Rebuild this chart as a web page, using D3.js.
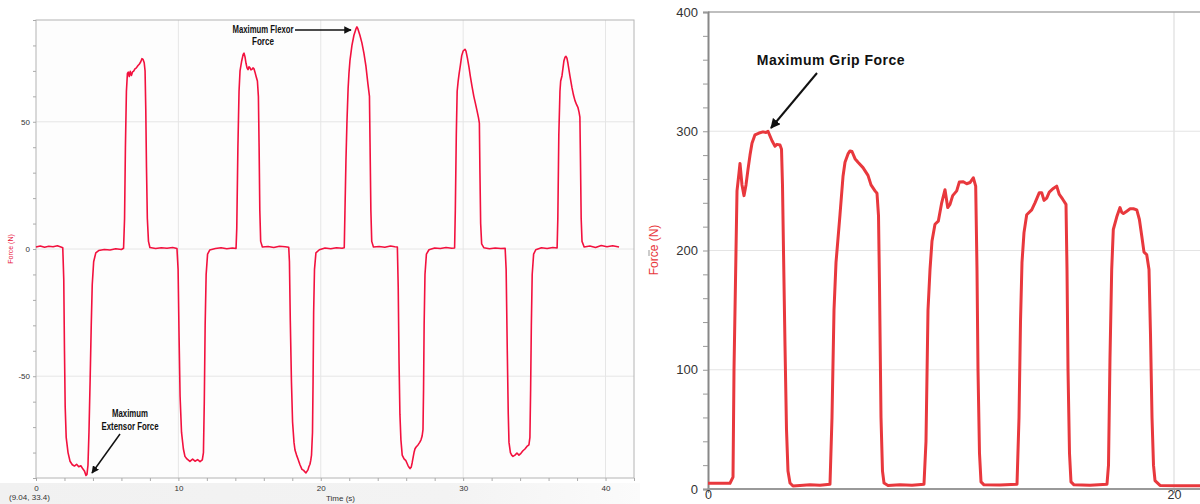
<!DOCTYPE html>
<html>
<head>
<meta charset="utf-8">
<script src="https://cdn.jsdelivr.net/npm/d3@7"></script>
<style>
  body { margin: 0; background: #fff; }
  svg { display: block; font-family: "Liberation Sans", Arial, sans-serif; }
</style>
</head>
<body>
<svg width="1200" height="504"></svg>
<script>
// left chart: flexor / extensor force over time
const leftTime = [0.00,0.30,0.60,0.90,1.20,1.50,1.75,1.88,1.95,2.00,2.05,2.12,2.25,2.39,2.55,2.70,2.85,3.00,3.15,3.30,3.40,3.51,3.58,3.65,3.72,3.80,3.88,3.95,4.05,4.20,4.40,4.80,5.20,5.60,6.00,
  6.15,6.22,6.28,6.35,6.42,6.48,6.55,6.62,6.70,6.78,6.86,6.95,7.05,7.15,7.25,7.35,7.44,7.52,7.60,7.66,7.71,7.76,7.82,7.90,8.00,8.40,8.80,9.20,9.60,9.90,
  9.98,10.05,10.12,10.22,10.35,10.46,10.60,10.81,11.00,11.17,11.35,11.52,11.68,11.76,11.82,11.88,11.95,12.05,12.20,12.60,13.00,13.40,13.80,14.05,
  14.10,14.18,14.26,14.33,14.45,14.55,14.61,14.68,14.75,14.82,14.89,14.96,15.03,15.10,15.17,15.24,15.31,15.38,15.45,15.55,15.62,15.67,15.72,15.78,15.90,16.30,16.70,17.10,17.50,17.75,
  17.80,17.86,17.94,18.02,18.12,18.19,18.30,18.40,18.54,18.68,18.80,18.89,18.96,19.03,19.10,19.17,19.24,19.30,19.35,19.42,19.46,19.50,19.56,19.66,19.90,20.30,20.70,21.10,21.50,21.65,
  21.70,21.77,21.84,21.92,21.98,22.05,22.19,22.33,22.47,22.54,22.61,22.75,22.89,23.03,23.17,23.31,23.42,23.46,23.52,23.58,23.70,24.10,24.50,24.90,25.20,25.38,
  25.44,25.50,25.56,25.63,25.72,25.85,25.98,26.12,26.20,26.27,26.35,26.42,26.50,26.55,26.62,26.70,26.83,26.95,27.04,27.12,27.18,27.22,27.26,27.32,27.42,27.60,28.00,28.40,28.80,29.20,29.40,
  29.45,29.52,29.58,29.65,29.72,29.80,29.90,30.00,30.13,30.20,30.30,30.41,30.50,30.62,30.75,30.85,30.97,31.08,31.14,31.18,31.23,31.30,31.45,31.85,32.25,32.65,32.95,
  33.02,33.10,33.17,33.22,33.32,33.41,33.50,33.64,33.78,33.92,34.06,34.20,34.34,34.48,34.62,34.69,34.74,34.79,34.85,34.95,35.10,35.50,35.90,36.30,36.60,
  36.65,36.72,36.80,36.85,36.94,37.01,37.08,37.15,37.22,37.29,37.36,37.43,37.50,37.64,37.75,37.85,37.96,38.06,38.14,38.20,38.24,38.29,38.35,38.50,38.90,39.30,39.70,40.10,40.50,40.95];
const leftForce = [0.8,1.2,0.7,1.1,0.9,1.3,0.8,0.5,-12,-40,-62,-74,-80,-83.4,-84.8,-85.3,-84.6,-85.6,-85.2,-86.5,-87.2,-89.0,-88.6,-85,-72,-52,-30,-14,-5,-1.5,-0.6,-0.2,-0.4,0.1,-0.2,
  0.3,12,40,62,69,69.5,67.8,69.8,68.2,69.6,69.9,70.8,71.2,72,72.6,73.5,74.8,74.5,73.2,70,55,32,12,3,0.6,0.2,0.5,0.3,0.6,0.2,
  -8,-35,-58,-72,-78.5,-81.5,-82.5,-83.5,-82.6,-83.4,-82.8,-83.6,-82.9,-80,-60,-30,-10,-2,-0.4,0.2,0.5,0.1,0.4,0.2,
  8,40,62,70,74,76.5,77,75.5,73,71.2,70.5,71.6,71.2,70.4,70.6,71.2,70.8,69.5,68,66,60,40,15,3,0.8,1.0,0.6,1.1,0.9,0.7,
  -5,-28,-52,-68,-76,-79,-81,-82.5,-84.8,-86.6,-87,-87.6,-88,-87.4,-86.8,-85.5,-84.6,-83,-81,-72,-52,-25,-8,-1.5,-0.3,0.4,0.1,0.5,0.3,0.5,
  15,35,50,63,69,74,80,84,86.5,87.3,86.5,84,81,77,72,65,60,42,15,3,0.8,1.0,0.7,1.2,0.9,0.8,
  -15,-45,-65,-75,-81,-82.5,-83.2,-85,-85.8,-86.3,-85.8,-84,-81.5,-80,-78.5,-77.8,-77,-76,-75,-73.5,-71,-55,-30,-10,-2,-0.3,0.4,0.2,0.6,0.3,0.4,
  15,45,62,66,69,72,76,77.8,78.5,77.8,75,71.5,68,64,60,57.5,54.5,51.5,49.5,30,10,2,0.5,0.1,0.4,0.2,0.3,
  -8,-40,-65,-76,-80,-81,-81.5,-81,-80.2,-81,-80.3,-79.3,-78.6,-77.6,-77,-74,-55,-30,-10,-2,-0.3,0.5,0.2,0.6,0.4,
  12,45,62,66,68,71,74,75.3,75.7,75,73,70.5,68,63.5,60.5,58.4,56.8,55.7,53.8,51.8,35,12,3,0.8,1.2,0.6,1.4,0.9,1.3,0.8];
const leftXTicks = d3.range(0, 43, 2);
const leftYTicks = d3.range(-90, 91, 10);

// right chart: grip force over time
const gripTime = [0,0.515,0.944,1.073,1.116,1.202,1.245,1.330,1.373,1.459,1.545,1.631,1.717,1.803,1.888,2.017,2.189,2.361,2.489,2.575,2.661,2.747,2.876,2.961,3.090,3.155,3.197,3.240,3.305,3.369,3.433,3.519,3.648,3.948,4.378,4.807,
  5.236,5.322,5.408,5.494,5.665,5.794,5.880,6.009,6.094,6.180,6.309,6.438,6.652,6.867,6.996,7.167,7.253,7.318,7.361,7.425,7.489,7.554,7.725,8.240,8.755,
  9.270,9.356,9.442,9.528,9.614,9.742,9.884,10.030,10.172,10.288,10.386,10.502,10.674,10.785,10.957,11.103,11.245,11.386,11.489,11.545,11.588,11.652,11.717,11.845,12.532,
  13.262,13.348,13.412,13.476,13.562,13.678,13.893,14.034,14.219,14.322,14.421,14.536,14.648,14.820,14.966,15.077,15.223,15.365,15.408,15.451,15.515,15.579,15.708,16.395,
  17.124,17.189,17.253,17.326,17.395,17.541,17.682,17.755,17.828,17.974,18.116,18.258,18.403,18.515,18.618,18.712,18.828,18.927,18.991,19.056,19.120,19.185,19.399,20.258,21.116];
const gripForce = [4.8,4.8,4.8,10,100,200,250,265,273,255,246,255,268,280,290,297,298.5,299.5,299,300,296,292,287.5,289,288.5,285,255,200,120,50,15,5,2.5,3,3.5,3.2,
  4,60,150,190,230,262,274,281,283.5,283,277,274,269.5,263,255,250,248,229,170,60,15,5,3,3.5,3.2,
  4,40,150,184,208,222,224.6,240,251,236,238.7,246,250,257.4,257.6,256,257,261,254,184,100,30,6,3.5,3.4,
  4,60,140,190,215,230,234,240,248.5,248.5,242,244,249,252,254,247,243,238.7,184,100,30,6,3.5,3.2,
  4,20,110,184,217.6,228,236,232,231,233,235,235,234,226,212,198.6,196.6,184,130,60,20,7,3,2.8,2.8];
const gripYTicks = d3.range(0, 401, 20);
const gripXTicks = [0, 20];

const svg = d3.select("svg");

// ---------- left panel ----------
const xL = d3.scaleLinear().domain([0, 42]).range([36, 634]);
const yL = d3.scaleLinear().domain([-90, 90]).range([478, 20]);

const defs = svg.append("defs");
const grad = defs.append("linearGradient")
    .attr("id", "botfade").attr("x1", 0).attr("x2", 1).attr("y1", 0).attr("y2", 0);
grad.append("stop").attr("offset", "0%").attr("stop-color", "#f1f1f1");
grad.append("stop").attr("offset", "70%").attr("stop-color", "#f3f3f3");
grad.append("stop").attr("offset", "100%").attr("stop-color", "#fbfbfb");
svg.append("rect").attr("x", 0).attr("y", 483).attr("width", 640).attr("height", 21).attr("fill", "url(#botfade)");

const left = svg.append("g");

left.append("rect")
    .attr("x", 36).attr("y", 20).attr("width", 598).attr("height", 458)
    .attr("fill", "#fdfdfd");

// grid
left.selectAll(".vgrid").data([10, 20, 30, 40]).enter().append("line")
    .attr("x1", d => xL(d)).attr("x2", d => xL(d))
    .attr("y1", 20).attr("y2", 478)
    .attr("stroke", "#e6e6e6").attr("stroke-width", 1);
left.selectAll(".hgrid").data([-50, 0, 50]).enter().append("line")
    .attr("x1", 36).attr("x2", 634)
    .attr("y1", d => yL(d)).attr("y2", d => yL(d))
    .attr("stroke", "#e6e6e6").attr("stroke-width", 1);

left.append("rect")
    .attr("x", 36).attr("y", 20).attr("width", 598).attr("height", 458)
    .attr("fill", "none").attr("stroke", "#b4b4b4").attr("stroke-width", 1);

const lxAxis = left.append("g")
    .attr("transform", "translate(0,478)")
    .call(d3.axisBottom(xL).tickValues(leftXTicks).tickSize(3)
        .tickFormat(d => d % 10 === 0 ? d : ""));
const lyAxis = left.append("g")
    .attr("transform", "translate(36,0)")
    .call(d3.axisLeft(yL).tickValues(leftYTicks).tickSize(3)
        .tickFormat(d => d % 50 === 0 ? d : ""));
[lxAxis, lyAxis].forEach(a => {
    a.select(".domain").remove();
    a.selectAll("line").attr("stroke", "#aaa");
    a.selectAll("text").attr("fill", "#333").style("font-size", "8px");
});
lxAxis.selectAll("text").attr("dy", "0.9em");

left.append("text")
    .attr("x", 326).attr("y", 501)
    .attr("fill", "#333").style("font-size", "8px")
    .text("Time (s)");
left.append("text")
    .attr("x", 9).attr("y", 500)
    .attr("fill", "#333").style("font-size", "8px")
    .text("(9.04, 33.4)");
left.append("text")
    .attr("transform", "translate(13,249) rotate(-90)")
    .attr("text-anchor", "middle")
    .attr("fill", "#e8143c").style("font-size", "7px")
    .text("Force (N)");

const leftLine = d3.line()
    .x(d => xL(d[0]))
    .y(d => yL(d[1]));
left.append("path")
    .datum(d3.zip(leftTime, leftForce))
    .attr("d", leftLine)
    .attr("fill", "none")
    .attr("stroke", "#f2113e")
    .attr("stroke-width", 1.6)
    .attr("stroke-linejoin", "round");

// arrows
defs.append("marker")
    .attr("id", "head").attr("viewBox", "0 0 10 10")
    .attr("refX", 9).attr("refY", 5)
    .attr("markerWidth", 5).attr("markerHeight", 5)
    .attr("orient", "auto")
    .append("path").attr("d", "M0,0 L10,5 L0,10 z").attr("fill", "#111");

// condensed bold labels (no narrow font installed, so squeeze with textLength)
function note(g, x, y, str, len) {
    g.append("text").attr("x", x).attr("y", y)
        .attr("text-anchor", "middle")
        .attr("textLength", len).attr("lengthAdjust", "spacingAndGlyphs")
        .style("font-weight", "bold").style("font-size", "11.5px").attr("fill", "#111")
        .text(str);
}
note(left, 263, 33, "Maximum Flexor", 61);
note(left, 263, 45, "Force", 22);
left.append("line")
    .attr("x1", 295).attr("y1", 30).attr("x2", 351).attr("y2", 30)
    .attr("stroke", "#111").attr("stroke-width", 1.5).attr("marker-end", "url(#head)");

note(left, 130, 417, "Maximum", 36);
note(left, 130, 430, "Extensor Force", 57);
left.append("line")
    .attr("x1", 120).attr("y1", 434).attr("x2", 92).attr("y2", 473)
    .attr("stroke", "#111").attr("stroke-width", 1.5).attr("marker-end", "url(#head)");

// ---------- right panel ----------
const xR = d3.scaleLinear().domain([0, 20]).range([708, 1174]);
const yR = d3.scaleLinear().domain([0, 400]).range([489, 12]);

const right = svg.append("g");

right.selectAll(".hgrid").data([100, 200, 300]).enter().append("line")
    .attr("x1", 708).attr("x2", 1200)
    .attr("y1", d => yR(d)).attr("y2", d => yR(d))
    .attr("stroke", "#e4e4e4").attr("stroke-width", 1.2);
right.append("line")
    .attr("x1", xR(20)).attr("x2", xR(20)).attr("y1", 12).attr("y2", 489)
    .attr("stroke", "#e4e4e4").attr("stroke-width", 1.5);
right.append("line")
    .attr("x1", 708).attr("x2", 1200).attr("y1", 12).attr("y2", 12)
    .attr("stroke", "#aaa").attr("stroke-width", 1.5);

const ryAxis = right.append("g")
    .attr("transform", "translate(708,0)")
    .call(d3.axisLeft(yR).tickValues(gripYTicks).tickSize(5).tickPadding(5)
        .tickFormat(d => d % 100 === 0 ? d : ""));
ryAxis.select(".domain").attr("stroke", "#888").attr("stroke-width", 2);
ryAxis.selectAll("line").attr("stroke", "#999");
ryAxis.selectAll("text").attr("fill", "#333").style("font-size", "13px");

const rxAxis = right.append("g")
    .attr("transform", "translate(0,489)")
    .call(d3.axisBottom(xR).tickValues(gripXTicks).tickSize(4));
rxAxis.select(".domain").attr("d", "M708,0H1200").attr("stroke", "#999").attr("stroke-width", 2);
rxAxis.selectAll("line").attr("stroke", "#999");
rxAxis.selectAll("text")
    .attr("y", 10).attr("dy", 0)
    .attr("fill", "#333").style("font-size", "12.5px");

right.append("text")
    .attr("transform", "translate(658,250) rotate(-90)")
    .attr("text-anchor", "middle")
    .attr("fill", "#e8383d").style("font-size", "12px")
    .text("Force (N)");
right.append("line")
    .attr("x1", 649).attr("x2", 649).attr("y1", 250).attr("y2", 256)
    .attr("stroke", "#999").attr("stroke-width", 1);

const clip = defs.append("clipPath").attr("id", "rclip");
clip.append("rect").attr("x", 708).attr("y", 0).attr("width", 492).attr("height", 504);

const gripLine = d3.line()
    .x(d => xR(d[0]))
    .y(d => yR(d[1]));
right.append("path")
    .datum(d3.zip(gripTime, gripForce))
    .attr("clip-path", "url(#rclip)")
    .attr("d", gripLine)
    .attr("fill", "none")
    .attr("stroke", "#e8383d")
    .attr("stroke-width", 3)
    .attr("stroke-linejoin", "round");

right.append("text").attr("x", 831).attr("y", 65)
    .attr("text-anchor", "middle")
    .style("font-weight", "bold").style("font-size", "14px").attr("fill", "#111")
    .style("letter-spacing", "0.5px")
    .text("Maximum Grip Force");
right.append("line")
    .attr("x1", 817).attr("y1", 73).attr("x2", 771).attr("y2", 128)
    .attr("stroke", "#111").attr("stroke-width", 2).attr("marker-end", "url(#head)");
</script>
</body>
</html>
